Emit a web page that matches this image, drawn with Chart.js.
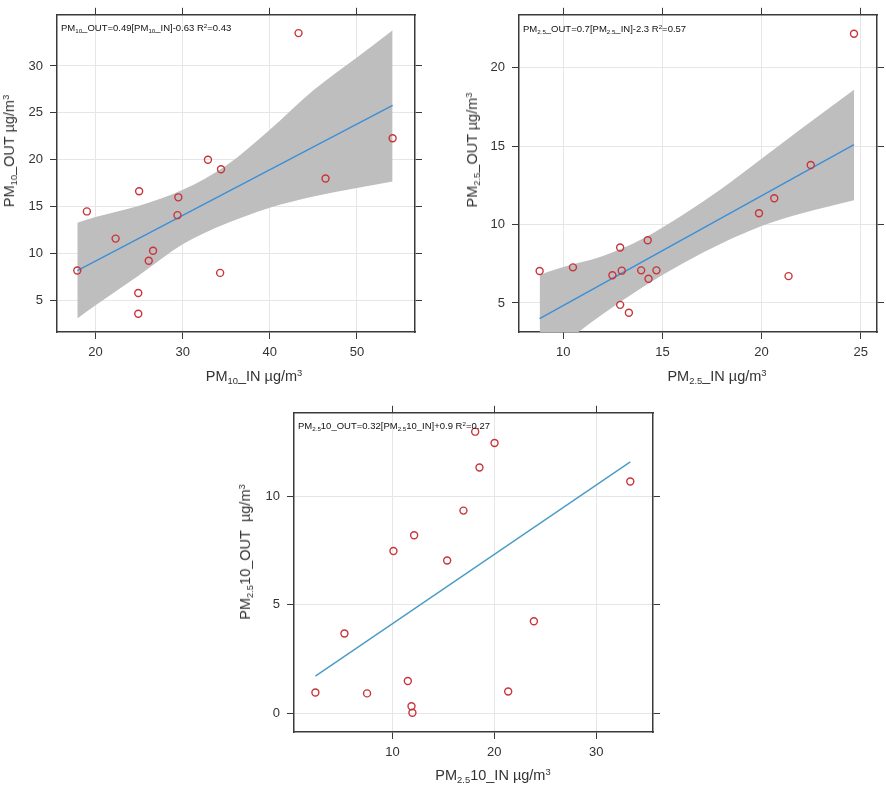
<!DOCTYPE html>
<html>
<head>
<meta charset="utf-8">
<title>PM indoor vs outdoor</title>
<script src="https://cdn.jsdelivr.net/npm/chart.js@4.4.0/dist/chart.umd.min.js"></script>
<style>
  body { margin: 0; background: #fff; font-family: "Liberation Sans", Arial, sans-serif; }
  #page { position: relative; width: 886px; height: 788px; overflow: hidden; }
  canvas { position: absolute; }
  .t { position: absolute; white-space: nowrap; font-size: 14.5px; color: #333; line-height: 18px; transform: translate(-50%, -50%); }
  .t.v { transform: translate(-50%, -50%) rotate(-90deg); }
  .eq { position: absolute; white-space: nowrap; font-size: 9.5px; color: #111; line-height: 12px; transform: translateY(-50%); }
  .lo { font-size: 65%; position: relative; top: 0.3em; }
  .hi { font-size: 65%; position: relative; top: -0.55em; }
</style>
</head>
<body>
<div id="page">
  <canvas id="pm10Chart" width="440" height="395" style="left:0px;top:0px"></canvas>
  <canvas id="pm25Chart" width="426" height="395" style="left:460px;top:0px"></canvas>
  <canvas id="pmcChart" width="440" height="390" style="left:236px;top:398px"></canvas>

  <div class="eq" style="left:61px;top:28px">PM<span class="lo">10</span>_OUT=0.49[PM<span class="lo">10</span>_IN]-0.63 R<span class="hi">2</span>=0.43</div>
  <div class="eq" style="left:523px;top:29px">PM<span class="lo">2.5</span>_OUT=0.7[PM<span class="lo">2.5</span>_IN]-2.3 R<span class="hi">2</span>=0.57</div>
  <div class="eq" style="left:298px;top:426px">PM<span class="lo">2.5</span>10_OUT=0.32[PM<span class="lo">2.5</span>10_IN]+0.9 R<span class="hi">2</span>=0.27</div>

  <div class="t" style="left:254px;top:377px">PM<span class="lo">10</span>_IN µg/m<span class="hi">3</span></div>
  <div class="t v" style="left:10px;top:151px">PM<span class="lo">10</span>_OUT µg/m<span class="hi">3</span></div>
  <div class="t" style="left:717px;top:377px">PM<span class="lo">2.5</span>_IN µg/m<span class="hi">3</span></div>
  <div class="t v" style="left:473px;top:150px">PM<span class="lo">2.5</span>_OUT µg/m<span class="hi">3</span></div>
  <div class="t" style="left:493px;top:776px">PM<span class="lo">2.5</span>10_IN µg/m<span class="hi">3</span></div>
  <div class="t v" style="left:246px;top:552px">PM<span class="lo">2.5</span>10_OUT&nbsp; µg/m<span class="hi">3</span></div>
</div>

<script>
// PM10 panel
const pm10In  = [43.3, 54.1, 46.4, 32.9, 34.4, 29.5, 29.4, 25.0, 19.0, 22.3, 26.6, 26.1, 17.9, 34.3, 24.9, 24.9];
const pm10Out = [33.5, 22.3, 18.0, 20.0, 19.0, 16.0, 14.1, 16.65, 14.5, 11.6, 10.3, 9.25, 8.2, 7.95, 5.8, 3.6];
const pm10FitX = [17.9, 54.1];
const pm10FitY = [8.2, 25.8];
const pm10BandX  = [17.9, 20, 25, 30, 35, 40, 45, 50, 54.1];
const pm10BandHi = [13.3, 13.9, 15.1, 16.8, 19.4, 23.2, 27.4, 30.9, 33.8];
const pm10BandLo = [3.1, 4.5, 7.7, 11.0, 13.2, 14.9, 16.1, 17.0, 17.7];
const pm10XTicks = [20, 30, 40, 50];
const pm10YTicks = [5, 10, 15, 20, 25, 30];

// PM2.5 panel
const pm25In  = [24.66, 22.48, 20.64, 19.87, 21.36, 14.26, 12.87, 14.70, 13.93, 14.30, 12.95, 12.48, 10.49, 8.81, 12.87, 13.31];
const pm25Out = [22.16, 13.8, 11.68, 10.72, 6.71, 9.0, 8.54, 7.08, 7.08, 6.54, 7.06, 6.77, 7.27, 7.04, 4.88, 4.38];
const pm25FitX = [8.81, 24.66];
const pm25FitY = [4.0, 15.09];
const pm25BandX  = [8.81, 10, 12, 14, 16, 18, 20, 22, 24.66];
const pm25BandHi = [6.8, 7.3, 8.0, 9.1, 10.6, 12.3, 14.2, 16.1, 18.6];
const pm25BandLo = [1.2, 2.4, 4.3, 6.0, 7.5, 8.8, 9.9, 10.7, 11.55];
const pm25XTicks = [10, 15, 20, 25];
const pm25YTicks = [5, 10, 15, 20];

// PM2.5-10 panel
const pmcIn  = [18.12, 20.02, 18.54, 33.34, 16.97, 12.13, 10.10, 15.37, 23.88, 5.29, 11.51, 2.44, 7.51, 21.36, 11.87, 11.96];
const pmcOut = [12.98, 12.46, 11.33, 10.68, 9.34, 8.20, 7.48, 7.04, 4.24, 3.67, 1.48, 0.95, 0.91, 1.0, 0.32, 0.02];
const pmcFitX = [2.44, 33.34];
const pmcFitY = [1.71, 11.59];
const pmcXTicks = [10, 20, 30];
const pmcYTicks = [0, 5, 10];

function xy(xs, ys) {
    return xs.map((x, i) => ({ x: x, y: ys[i] }));
}

function makePanel(id, p) {
    const boxColor = '#3a3a3a';
    const tickFont = { family: '"Liberation Sans", Arial, sans-serif', size: 13 };

    // one axis per side, so the ticks stick out on all four sides of the box
    const axis = (pos, range, ticks, size, main) => ({
        type: 'linear',
        position: pos,
        min: range[0],
        max: range[1],
        afterBuildTicks: s => { s.ticks = ticks.map(v => ({ value: v })); },
        afterFit: s => { if (s.isHorizontal()) s.height = size; else s.width = size; },
        grid: { color: '#e6e6e6', drawOnChartArea: main, tickColor: boxColor, tickLength: 7, tickWidth: 1 },
        border: { display: true, color: boxColor, width: 1.5 },
        ticks: { display: main, font: tickFont, color: '#333', padding: (pos === 'left') ? 7 : 6 }
    });

    const datasets = [{
        data: xy(p.x, p.y),
        pointStyle: 'circle',
        pointRadius: 3.5,
        pointBorderWidth: 1.4,
        pointBorderColor: '#c9343a',
        pointBackgroundColor: 'rgba(0,0,0,0)',
        showLine: false
    }, {
        data: xy(p.fitX, p.fitY),
        showLine: true,
        borderColor: p.lineColor,
        borderWidth: 1.4,
        pointRadius: 0
    }];

    if (p.bandX) {
        datasets.push({
            data: xy(p.bandX, p.bandHi),
            showLine: true,
            borderColor: 'rgba(0,0,0,0)',
            pointRadius: 0,
            cubicInterpolationMode: 'monotone',
            fill: '+1',
            backgroundColor: '#bebebe'
        }, {
            data: xy(p.bandX, p.bandLo),
            showLine: true,
            borderColor: 'rgba(0,0,0,0)',
            pointRadius: 0,
            cubicInterpolationMode: 'monotone',
            fill: false
        });
    }

    return new Chart(document.getElementById(id), {
        type: 'scatter',
        data: { datasets: datasets },
        options: {
            responsive: false,
            animation: false,
            devicePixelRatio: 1,
            events: [],
            layout: { padding: 0 },
            plugins: { legend: { display: false }, tooltip: { enabled: false } },
            scales: {
                x:  axis('bottom', p.xRange, p.xTicks, p.sizes.bottom, true),
                x2: axis('top', p.xRange, p.xTicks, p.sizes.top, false),
                y:  axis('left', p.yRange, p.yTicks, p.sizes.left, true),
                y2: axis('right', p.yRange, p.yTicks, p.sizes.right, false)
            }
        }
    });
}

document.addEventListener('DOMContentLoaded', function() {
    makePanel('pm10Chart', {
        x: pm10In, y: pm10Out, fitX: pm10FitX, fitY: pm10FitY,
        bandX: pm10BandX, bandHi: pm10BandHi, bandLo: pm10BandLo,
        xTicks: pm10XTicks, yTicks: pm10YTicks,
        xRange: [15.57, 56.67], yRange: [1.65, 35.45],
        lineColor: '#3b8fd6',
        sizes: { left: 57, top: 9, right: 25, bottom: 63 }
    });

    makePanel('pm25Chart', {
        x: pm25In, y: pm25Out, fitX: pm25FitX, fitY: pm25FitY,
        bandX: pm25BandX, bandHi: pm25BandHi, bandLo: pm25BandLo,
        xTicks: pm25XTicks, yTicks: pm25YTicks,
        xRange: [7.77, 25.82], yRange: [3.15, 23.37],
        lineColor: '#3b8fd6',
        sizes: { left: 59, top: 8, right: 9, bottom: 63 }
    });

    makePanel('pmcChart', {
        x: pmcIn, y: pmcOut, fitX: pmcFitX, fitY: pmcFitY,
        xTicks: pmcXTicks, yTicks: pmcYTicks,
        xRange: [0.34, 35.57], yRange: [-0.87, 13.85],
        lineColor: '#4a9cc6',
        sizes: { left: 58, top: 9, right: 23, bottom: 56 }
    });
});
</script>
</body>
</html>
